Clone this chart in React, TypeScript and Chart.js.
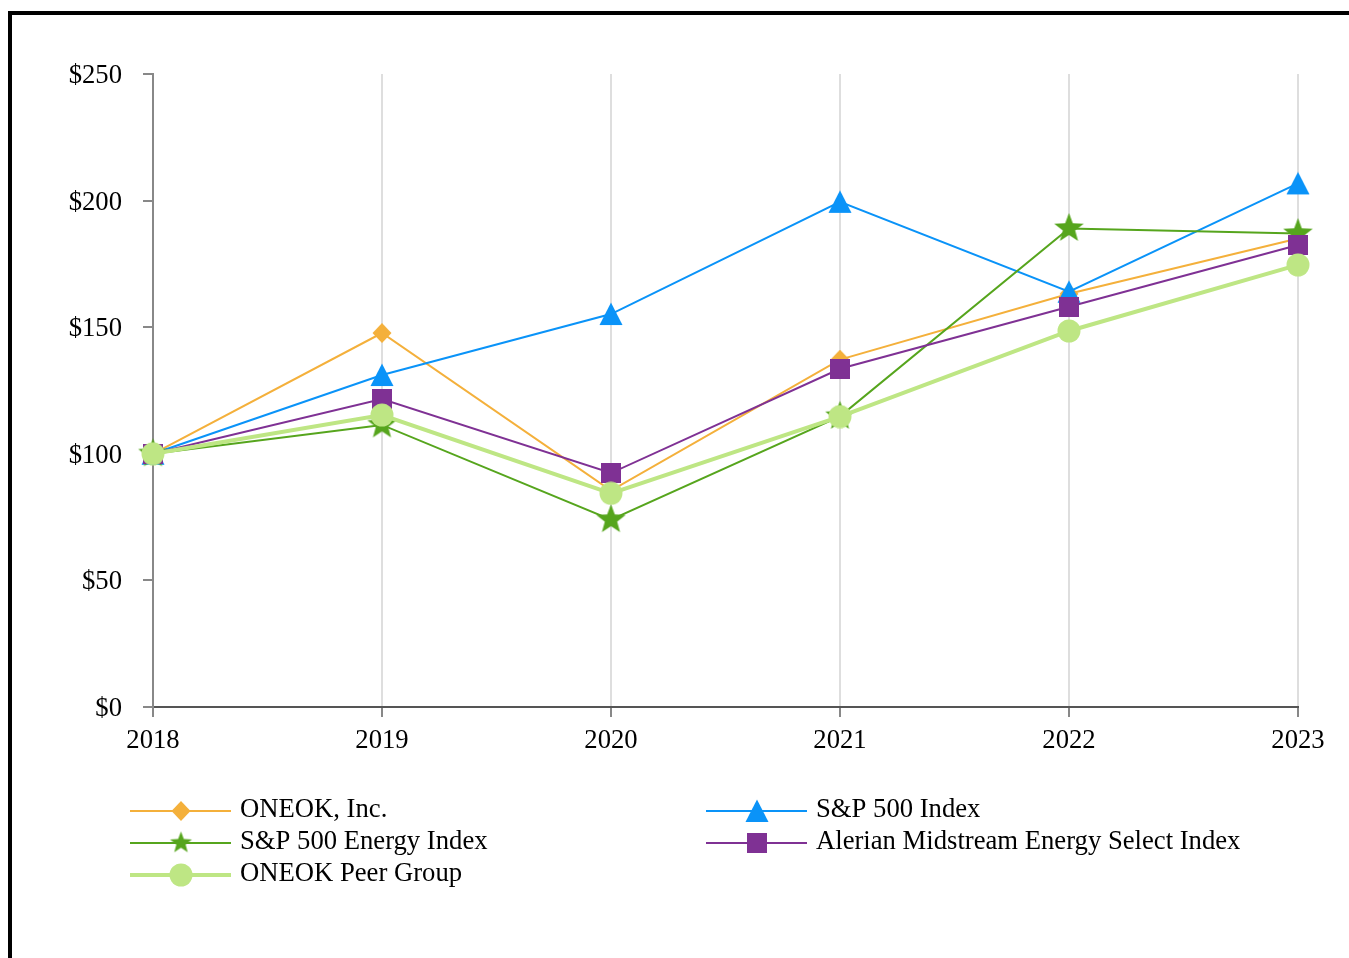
import React, { useEffect, useRef } from "react";
import { Chart, registerables } from "chart.js";

const years = ["2018", "2019", "2020", "2021", "2022", "2023"];
const oneok = [100, 147.7, 85.5, 137.2, 163.2, 185];
const sp500 = [100, 131.1, 155.2, 199.5, 164, 206.8];
const spEnergy = [100, 111.4, 74, 114.8, 189, 187];
const alerian = [100, 121.6, 92.4, 133.6, 158.1, 182.5];
const peerGroup = [100, 115.3, 84.4, 114.7, 148.5, 174.6];

const seriesLabels = [
  "ONEOK, Inc.",
  "S&P 500 Index",
  "S&P 500 Energy Index",
  "Alerian Midstream Energy Select Index",
  "ONEOK Peer Group",
];
const seriesColors = ["#F4B03B", "#0A93F8", "#56A51D", "#7F3194", "#BEE684"];
const seriesWidths = [2, 2, 2, 2, 4];

const yMin = 0;
const yMax = 250;
const yStep = 50;

const FONT = '"Liberation Serif", "Times New Roman", serif';
const FONT_SIZE = 26.67;

function makeCanvas(w: number, h: number, draw: (ctx: CanvasRenderingContext2D) => void) {
  const c = document.createElement("canvas");
  c.width = w;
  c.height = h;
  const ctx = c.getContext("2d")!;
  draw(ctx);
  return c;
}

function diamond(color: string) {
  return makeCanvas(20, 20, (ctx) => {
    ctx.fillStyle = color;
    ctx.beginPath();
    ctx.moveTo(10, 0);
    ctx.lineTo(19.5, 10);
    ctx.lineTo(10, 20);
    ctx.lineTo(0.5, 10);
    ctx.closePath();
    ctx.fill();
  });
}
function triangle(color: string) {
  return makeCanvas(24, 24, (ctx) => {
    ctx.fillStyle = color;
    ctx.beginPath();
    ctx.moveTo(12, 0.5);
    ctx.lineTo(23.5, 23);
    ctx.lineTo(0.5, 23);
    ctx.closePath();
    ctx.fill();
  });
}
function square(color: string) {
  return makeCanvas(20, 20, (ctx) => {
    ctx.fillStyle = color;
    ctx.fillRect(0, 0, 20, 20);
  });
}
function circle(color: string) {
  return makeCanvas(24, 24, (ctx) => {
    ctx.fillStyle = color;
    ctx.beginPath();
    ctx.arc(12, 12, 11.5, 0, Math.PI * 2);
    ctx.fill();
  });
}
function star(color: string, R: number) {
  const s = Math.ceil(2 * R + 2);
  return makeCanvas(s, s, (ctx) => {
    ctx.fillStyle = color;
    ctx.beginPath();
    for (let i = 0; i < 10; i++) {
      const a = -Math.PI / 2 + (i * Math.PI) / 5;
      const r = i % 2 === 0 ? R : R * 0.42;
      const px = s / 2 + r * Math.cos(a);
      const py = s / 2 + r * Math.sin(a);
      if (i === 0) ctx.moveTo(px, py);
      else ctx.lineTo(px, py);
    }
    ctx.closePath();
    ctx.fill();
  });
}

export default function App() {
  const ref = useRef<HTMLCanvasElement | null>(null);

  useEffect(() => {
    Chart.register(...registerables);
    const values = [oneok, sp500, spEnergy, alerian, peerGroup];
    const markers = [
      diamond(seriesColors[0]),
      triangle(seriesColors[1]),
      star(seriesColors[2], 15.5),
      square(seriesColors[3]),
      circle(seriesColors[4]),
    ];
    const legendMarkers = [
      diamond(seriesColors[0]),
      triangle(seriesColors[1]),
      star(seriesColors[2], 11.5),
      square(seriesColors[3]),
      circle(seriesColors[4]),
    ];

    const datasets = values.map((v, i) => ({
      label: seriesLabels[i],
      data: v,
      borderColor: seriesColors[i],
      backgroundColor: seriesColors[i],
      borderWidth: seriesWidths[i],
      pointStyle: markers[i] as any,
      pointRadius: 12,
      pointHoverRadius: 12,
      tension: 0,
      clip: false as any,
      order: 5 - i,
    }));

    const legendPlugin = {
      id: "customLegend",
      afterDraw(chart: any) {
        const ctx = chart.ctx as CanvasRenderingContext2D;
        const colX = [130, 706];
        const rowY = [811, 843, 875];
        ctx.save();
        seriesLabels.forEach((label, i) => {
          const x0 = colX[i % 2];
          const y = rowY[Math.floor(i / 2)];
          ctx.strokeStyle = seriesColors[i];
          ctx.lineWidth = seriesWidths[i];
          ctx.beginPath();
          ctx.moveTo(x0, y);
          ctx.lineTo(x0 + 101, y);
          ctx.stroke();
          const img = legendMarkers[i];
          ctx.drawImage(img, x0 + 51 - img.width / 2, y - img.height / 2);
          ctx.fillStyle = "#000";
          ctx.font = `${FONT_SIZE}px ${FONT}`;
          ctx.textBaseline = "alphabetic";
          ctx.textAlign = "left";
          ctx.fillText(label, x0 + 110, y + 6);
        });
        ctx.restore();
      },
    };

    const chart = new Chart(ref.current!, {
      type: "line",
      data: { labels: years, datasets: datasets as any },
      options: {
        animation: false,
        responsive: false,
        devicePixelRatio: 1,
        layout: { padding: { left: 0, top: 74, right: 51, bottom: 0 } },
        plugins: {
          legend: { display: false },
          tooltip: { enabled: false },
        },
        scales: {
          x: {
            offset: false,
            grid: {
              display: true,
              drawOnChartArea: true,
              drawTicks: true,
              color: "#DEDEDE",
              tickColor: "#888888",
              tickLength: 10,
              lineWidth: 2,
            },
            border: { display: true, color: "#555555", width: 2 },
            ticks: {
              color: "#000",
              font: { family: FONT, size: FONT_SIZE, lineHeight: 1.2 },
              padding: 8,
              maxRotation: 0,
              autoSkip: false,
            },
            afterFit(scale: any) {
              scale.height = 251;
            },
          },
          y: {
            min: yMin,
            max: yMax,
            grid: {
              display: true,
              drawOnChartArea: false,
              drawTicks: true,
              tickLength: 10,
              color: "#888888",
              lineWidth: 2,
            },
            border: { display: true, color: "#888888", width: 2 },
            ticks: {
              stepSize: yStep,
              color: "#000",
              font: { family: FONT, size: FONT_SIZE },
              padding: 21,
              labelOffset: 2,
              callback: (v: any) => "$" + v,
            },
            afterFit(scale: any) {
              scale.width = 153;
            },
          },
        },
      },
      plugins: [legendPlugin],
    });
    return () => chart.destroy();
  }, []);

  return (
    <div
      style={{
        position: "fixed",
        left: 0,
        top: 0,
        width: 1349,
        height: 958,
        overflow: "hidden",
        background: "#fff",
      }}
    >
      <div
        style={{
          position: "absolute",
          left: 8,
          top: 11,
          width: 1400,
          height: 1000,
          borderTop: "4px solid #000",
          borderLeft: "4px solid #000",
        }}
      />
      <canvas
        ref={ref}
        width={1349}
        height={958}
        style={{ position: "absolute", left: 0, top: 0, width: 1349, height: 958 }}
      />
    </div>
  );
}
